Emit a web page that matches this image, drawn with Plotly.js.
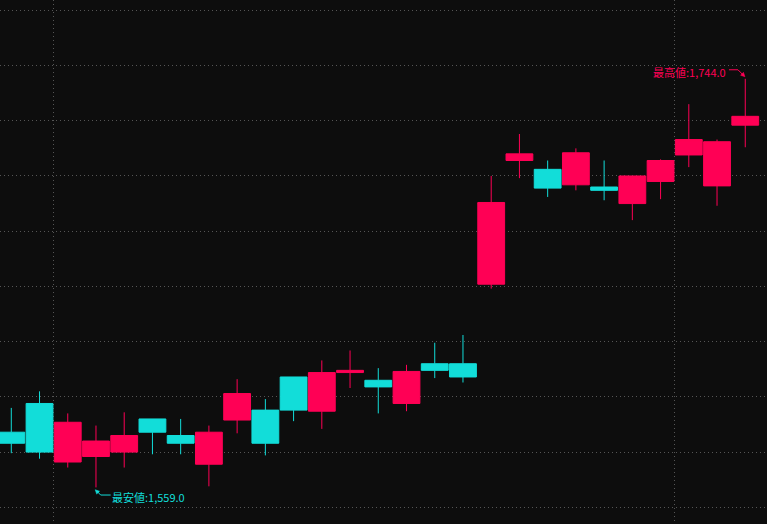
<!DOCTYPE html>
<html>
<head>
<meta charset="utf-8">
<script src="https://cdn.plot.ly/plotly-3.0.1.min.js"></script>
<style>
html,body{margin:0;padding:0;background:#0d0d0d;}
#chart{width:767px;height:524px;}
</style>
</head>
<body>
<div id="chart"></div>
<script>
// Session index (x) and OHLC values
const idx   = [0,1,2,3,4,5,6,7,8,9,10,11,12,13,14,15,16,17,18,19,20,21,22,23,24,25,26];
const open  = [1584,1597,1570.5,1573,1575,1590,1582.5,1569.5,1589.5,1594,1609,1593.5,1611,1607.5,1597,1615,1615,1651,1707,1703,1696,1695,1687.5,1697.5,1709.5,1695.5,1723];
const high  = [1595,1602.5,1592.5,1587,1593,1590,1590,1587,1608,1599,1609,1616.5,1621,1613,1614.5,1624.5,1628,1700,1719,1707,1712.5,1707,1700,1707.5,1732.5,1716.5,1744];
const low   = [1574.5,1572,1568,1559,1568,1574,1574,1559.5,1583.5,1573.5,1589,1585.5,1604,1592.5,1593.5,1608.5,1606.5,1649,1699,1690.5,1693.5,1689,1680,1689.5,1704,1686.5,1713];
const close = [1579,1575,1588.5,1580,1582.5,1584,1579,1584,1601.5,1579,1594,1611,1612,1604.5,1611.5,1612,1609,1688,1710,1694.5,1710.5,1693.5,1700,1707,1716.5,1715.5,1727];
// Vertical divider positions (period boundaries)
const dividers = [1.5, 23.5];
const hiLabel = '最高値';
const loLabel = '最安値';

const UP = '#ff0055';
const DOWN = '#12ddd9';

const hiVal = Math.max(...high);
const hiIdx = idx[high.indexOf(hiVal)];
const loVal = Math.min(...low);
const loIdx = idx[low.indexOf(loVal)];
const fmt = v => v.toLocaleString('en-US', {minimumFractionDigits: 1, maximumFractionDigits: 1});

const trace = {
  type: 'candlestick',
  x: idx, open: open, high: high, low: low, close: close,
  increasing: {line: {color: UP, width: 1}, fillcolor: UP},
  decreasing: {line: {color: DOWN, width: 1}, fillcolor: DOWN},
  whiskerwidth: 0,
  hoverinfo: 'none'
};

const font = {family: '"Noto Sans CJK JP", "Noto Sans", sans-serif', size: 11};

const annotations = [
  {x: hiIdx, y: hiVal, xref: 'x', yref: 'y', showarrow: false, text: hiLabel + ':' + fmt(hiVal),
   xanchor: 'right', yanchor: 'middle', xshift: -17, yshift: 6.5, font: Object.assign({}, font, {color: UP})},
  {x: loIdx, y: loVal, xref: 'x', yref: 'y', showarrow: false, text: loLabel + ':' + fmt(loVal),
   xanchor: 'left', yanchor: 'middle', xshift: 13.7, yshift: -9.6, font: Object.assign({}, font, {color: DOWN})}
];

// leader lines + arrowheads, drawn in pixel offsets from the extreme points
function pixShape(xa, ya, path, color, filled) {
  return {
    type: 'path', xref: 'x', yref: 'y',
    xsizemode: 'pixel', ysizemode: 'pixel', xanchor: xa, yanchor: ya,
    path: path,
    line: {color: color, width: filled ? 0.5 : 1},
    fillcolor: filled ? color : 'rgba(0,0,0,0)',
    layer: 'above'
  };
}
const shapes = [
  pixShape(hiIdx, hiVal, 'M -16.3 9 L -7.3 9 L -2.5 4.2', UP, false),
  pixShape(hiIdx, hiVal, 'M -0.3 2 L -1.8 6.4 L -4.7 3.5 Z', UP, true),
  pixShape(loIdx, loVal, 'M 14.7 -7.6 L 4.7 -7.6 L 1.6 -4.5', DOWN, false),
  pixShape(loIdx, loVal, 'M -0.8 -2.3 L 3.6 -3.8 L 0.7 -6.7 Z', DOWN, true)
];

const layout = {
  width: 767, height: 524,
  margin: {l: 0, r: 0, t: 0, b: 0, pad: 0},
  paper_bgcolor: '#0d0d0d',
  plot_bgcolor: '#0d0d0d',
  showlegend: false,
  boxgap: 0.05,
  boxgroupgap: 0,
  xaxis: {
    range: [-0.4, 26.77], rangeslider: {visible: false},
    tickmode: 'array', tickvals: dividers, showticklabels: false, ticks: '',
    showgrid: true, gridcolor: '#555555', griddash: '1px,3px', gridwidth: 1,
    zeroline: false, showline: false, fixedrange: true
  },
  yaxis: {
    range: [1542.44, 1779.66], dtick: 25, tick0: 0, showticklabels: false, ticks: '',
    showgrid: true, gridcolor: '#555555', griddash: '1px,3px', gridwidth: 1,
    zeroline: false, showline: false, fixedrange: true
  },
  annotations: annotations,
  shapes: shapes
};

Plotly.newPlot('chart', [trace], layout, {displayModeBar: false, staticPlot: true});
</script>
</body>
</html>
